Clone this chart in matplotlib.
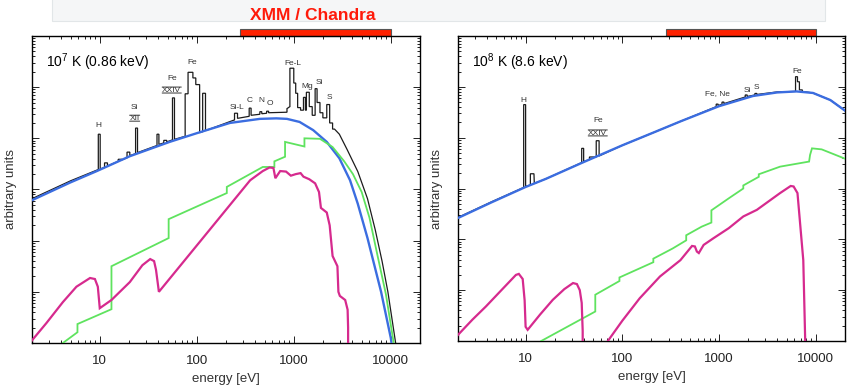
import numpy as np
import matplotlib.pyplot as plt
import matplotlib.ticker as mticker
from matplotlib import transforms
from matplotlib.patches import Rectangle

plt.rcParams['font.family'] = ['Liberation Sans', 'DejaVu Sans']
plt.rcParams['mathtext.default'] = 'regular'

# energies in eV, spectra given as log10(flux) in arbitrary units

# ---------------- 10^7 K ----------------
cont7_E = [2.0, 5.01, 9.33, 20.4, 52.5, 100, 219, 447, 661, 851, 1148, 1585, 2188,
           2951, 3802, 4571, 5754, 7943, 10000, 10715]
cont7_lg = [2.79, 3.14, 3.36, 3.65, 3.93, 4.10, 4.30, 4.38, 4.39, 4.38, 4.32, 4.16, 3.93,
            3.61, 3.18, 2.72, 2.05, 1.0, 0.1, -0.3]

tot7_E = [2.0, 5.01, 9.66, 9.66, 10.1, 10.1, 11.2, 11.2, 12.0, 12.0, 15.5, 15.5, 17.0, 17.0,
          19.1, 19.1, 20.4, 20.4, 23.4, 23.4, 24.5, 24.5, 38.9, 38.9, 40.7, 40.7,
          45.7, 45.7, 49.0, 49.0, 56.2, 56.2, 58.9, 58.9, 75.9, 75.9, 81.3, 81.3,
          91.2, 91.2, 97.7, 97.7, 107, 107, 115, 115, 123, 123, 245, 245, 263, 263,
          347, 347, 363, 363, 447, 447, 468, 468, 525, 525, 550, 550, 851, 851,
          912, 912, 1000, 1000, 1047, 1047, 1096, 1096, 1175, 1175, 1259, 1259,
          1318, 1318, 1349, 1349, 1445, 1445, 1549, 1549, 1660, 1660, 1738, 1738,
          1862, 1862, 1995, 1995, 2188, 2188, 2344, 2344, 2512, 2512, 2630,
          2951, 3548, 4571, 5754, 6918, 8128, 9333, 11220, 11749]
tot7_lg = [2.82, 3.17, 3.39, 4.08, 4.08, 3.40, 3.43, 3.52, 3.52, 3.46, 3.55, 3.59, 3.59, 3.58,
           3.62, 3.73, 3.73, 3.66, 3.70, 4.20, 4.20, 3.72, 3.86, 4.08, 4.08, 3.88,
           3.91, 3.96, 3.96, 3.93, 3.97, 4.79, 4.79, 3.98, 4.04, 4.87, 4.87, 5.29,
           5.29, 5.18, 5.18, 5.05, 5.05, 4.11, 4.13, 4.88, 4.88, 4.15, 4.36, 4.49, 4.49, 4.39,
           4.43, 4.59, 4.59, 4.45, 4.47, 4.52, 4.52, 4.48, 4.49, 4.53, 4.53, 4.50, 4.51, 4.58,
           4.62, 5.37, 5.37, 5.08, 5.08, 4.88, 4.88, 4.60, 4.60, 4.55, 4.55, 4.80,
           4.80, 4.55, 4.55, 4.90, 4.90, 4.62, 4.62, 4.45, 4.45, 4.97, 4.97, 4.70,
           4.70, 4.50, 4.50, 4.40, 4.40, 4.66, 4.66, 4.30, 4.30, 4.18, 4.18,
           4.08, 3.78, 3.35, 2.82, 2.21, 1.60, 1.0, 0.0, -0.3]

grn7_E = [4.17, 5.89, 5.89, 13.2, 13.2, 51.3, 51.3, 204, 204, 479, 631, 631, 813, 813,
          1288, 1288, 1862, 2512, 3311, 4074, 5012, 6026, 7413, 8913, 10715, 11220]
grn7_lg = [0.0, 0.21, 0.37, 0.66, 1.50, 2.05, 2.42, 2.93, 3.05, 3.44, 3.44, 3.55, 3.64, 3.93,
           3.84, 4.0, 3.99, 3.83, 3.55, 3.30, 2.95, 2.45, 1.65, 0.95, 0.0, -0.3]

mag7_E = [2.0, 2.82, 4.17, 5.75, 7.94, 8.91, 9.55, 10.0, 13.2, 20.4, 27.5, 33.1, 36.3, 38.0,
          40.7, 355, 479, 562, 617, 646, 724, 832, 933, 1047, 1175, 1259, 1445, 1660,
          1820, 1905, 2188, 2344, 2512, 2818, 2884, 2985, 3388, 3589, 3631, 3631]
mag7_lg = [0.05, 0.39, 0.80, 1.10, 1.27, 1.25, 1.10, 0.68, 0.84, 1.19, 1.52, 1.64, 1.60, 1.43,
           1.0, 3.18, 3.36, 3.43, 3.42, 3.22, 3.36, 3.35, 3.27, 3.30, 3.32, 3.25, 3.20, 3.12,
           2.95, 2.64, 2.55, 2.30, 1.70, 1.50, 1.0, 0.92, 0.84, 0.65, 0.3, -0.5]

# ---------------- 10^8 K ----------------
cont8_E = [2.0, 4.47, 10, 16.2, 39.8, 100, 209, 398, 1000, 2239, 3981, 6310, 9333, 14125, 20417]
cont8_lg = [2.42, 2.73, 3.03, 3.19, 3.52, 3.85, 4.10, 4.32, 4.62, 4.82, 4.89, 4.91, 4.88, 4.74, 4.52]

tot8_E = [2.0, 4.47, 9.55, 9.55, 10, 10, 11.2, 11.2, 12.2, 12.3, 16.2, 38.0, 38.0, 39.8, 39.8,
          45.7, 45.7, 53.7, 53.7, 57.5, 57.5, 100, 209, 398, 933, 933, 977, 977, 1072, 1072,
          1122, 1122, 1862, 1862, 1950, 1950, 2344, 2344, 2455, 2455, 3981, 6166, 6166,
          6457, 6457, 6761, 6761, 7244, 7244, 9333, 14125, 20417]
tot8_lg = [2.43, 2.74, 3.02, 4.65, 4.65, 3.04, 3.07, 3.29, 3.29, 3.10, 3.19, 3.51, 3.79, 3.79, 3.53,
           3.57, 3.62, 3.62, 3.94, 3.94, 3.64, 3.85, 4.10, 4.32, 4.61, 4.66, 4.66, 4.63, 4.66, 4.70,
           4.70, 4.67, 4.80, 4.84, 4.84, 4.81, 4.84, 4.87, 4.87, 4.85, 4.90, 4.91, 5.20,
           5.20, 5.10, 5.10, 4.94, 4.94, 4.91, 4.88, 4.74, 4.52]

grn8_E = [14.5, 52.5, 52.5, 93.3, 93.3, 209, 209, 331, 457, 457, 661, 832, 832, 1288, 1778,
          1778, 2570, 2570, 4266, 8511, 8710, 9120, 11482, 20417]
grn8_lg = [0.0, 0.58, 0.91, 1.18, 1.25, 1.55, 1.62, 1.82, 1.98, 2.08, 2.25, 2.33, 2.57, 2.82, 3.00,
           3.06, 3.23, 3.28, 3.43, 3.53, 3.66, 3.79, 3.77, 3.58]

mag8a_E = [2.0, 2.82, 3.89, 5.62, 7.94, 8.51, 9.33, 9.77, 10.0, 10.5, 14.1, 19.1, 25.1, 30.9,
           33.9, 36.3, 38.0, 38.9, 38.9]
mag8a_lg = [0.12, 0.42, 0.68, 1.0, 1.30, 1.32, 1.22, 0.8, 0.28, 0.22, 0.52, 0.81, 1.02, 1.14,
            1.12, 1.0, 0.75, 0.2, -0.3]
mag8b_E = [69.2, 70.8, 100, 151, 245, 398, 525, 562, 589, 617, 692, 871, 1259, 1778, 2455,
           4266, 5495, 5888, 6457, 6918, 7413, 7762, 7762]
mag8b_lg = [-0.1, 0.0, 0.4, 0.84, 1.27, 1.59, 1.87, 1.86, 1.76, 1.73, 1.89, 2.02, 2.22, 2.45, 2.58,
            2.91, 3.05, 3.04, 2.91, 2.25, 1.59, 0.0, -0.3]

# line identifications (text, energy, log10 flux, roman-numeral style)
lab7 = [("H", 9.77, 4.26, False), ("Si", 22.9, 4.61, False), ("XII", 22.9, 4.39, True),
        ("Fe", 55.2, 5.17, False), ("XXIV", 55.2, 4.94, True), ("Fe", 88.7, 5.49, False),
        ("Si-L", 263, 4.61, False), ("C", 352, 4.73, False), ("N", 468, 4.73, False),
        ("O", 566, 4.69, False), ("Fe-L", 977, 5.47, False), ("Mg", 1361, 5.02, False),
        ("Si", 1854, 5.10, False), ("S", 2350, 4.80, False)]
lab8 = [("H", 9.53, 4.74, False), ("Fe", 55.7, 4.33, False), ("XXIV", 55.7, 4.09, True),
        ("Fe, Ne", 953, 4.86, False), ("Si", 1950, 4.92, False), ("S", 2415, 4.98, False),
        ("Fe", 6427, 5.30, False)]

band = (280, 10000)   # XMM / Chandra energy band, eV

c_tot, c_cont, c_grn, c_mag = '#1c1c1c', '#3b6de0', '#5fe35f', '#d62a8e'

fig = plt.figure(figsize=(8.5, 3.89), dpi=100)
ax1 = fig.add_axes([0.0376, 0.1183, 0.4565, 0.7892])
ax2 = fig.add_axes([0.5388, 0.1234, 0.4553, 0.7840])


def curve(ax, E, lg, **kw):
    ax.plot(E, 10 ** np.array(lg), solid_joinstyle='miter', **kw)


def panel(ax, tot, cont, grn, mags, labels, title):
    curve(ax, *tot, color=c_tot, lw=0.9, zorder=2)
    curve(ax, *cont, color=c_cont, lw=1.7, zorder=3)
    curve(ax, *grn, color=c_grn, lw=1.3, zorder=4)
    for m in mags:
        curve(ax, *m, color=c_mag, lw=1.6, zorder=5)
    ax.set_xscale('log')
    ax.set_yscale('log')
    ax.set_xlim(2, 20000)
    ax.set_ylim(1, 1e6)
    ax.xaxis.set_major_formatter(mticker.FuncFormatter(lambda v, p: f'{v:g}'))
    ax.xaxis.set_minor_formatter(mticker.NullFormatter())
    ax.yaxis.set_major_formatter(mticker.NullFormatter())
    ax.yaxis.set_minor_locator(mticker.LogLocator(subs=np.arange(2, 10), numticks=20))
    ax.yaxis.set_minor_formatter(mticker.NullFormatter())
    ax.tick_params(which='both', direction='in', top=True, right=True, width=0.7,
                   labelsize=9.5, colors='#222222')
    ax.tick_params(which='major', length=5, pad=9)
    ax.tick_params(which='minor', length=2.5)
    for s in ax.spines.values():
        s.set_linewidth(1.0)
    ax.set_xlabel('energy [eV]', fontsize=9.5, labelpad=4, color='#333333')
    ax.set_ylabel('arbitrary units', fontsize=9.5, labelpad=2, color='#333333')
    ax.text(0.036, 0.915, title, transform=ax.transAxes, va='center', fontsize=10)
    for s, E, lg, rom in labels:
        t = ax.text(E, 10 ** lg, s, ha='center', va='center', fontsize=6,
                    color='#333333', zorder=6)
        if rom:
            for yy in (0.1, 0.95):
                ax.annotate('', xy=(0, yy), xycoords=t, xytext=(1, yy), textcoords=t,
                            arrowprops=dict(arrowstyle='-', lw=0.7, color='#333333',
                                            shrinkA=0, shrinkB=0))
    tr = transforms.blended_transform_factory(ax.transData, ax.transAxes)
    ax.add_patch(Rectangle((band[0], 1.0), band[1] - band[0], 0.023, transform=tr,
                           facecolor='#ff2200', edgecolor='#555555', lw=0.8, clip_on=False))


panel(ax1, (tot7_E, tot7_lg), (cont7_E, cont7_lg), (grn7_E, grn7_lg),
      [(mag7_E, mag7_lg)], lab7, r'10$^7$ K (0.86 keV)')
panel(ax2, (tot8_E, tot8_lg), (cont8_E, cont8_lg), (grn8_E, grn8_lg),
      [(mag8a_E, mag8a_lg), (mag8b_E, mag8b_lg)], lab8, r'10$^8$ K (8.6 keV)')

fig.patches.append(Rectangle((0.061, 0.946), 0.91, 0.07, transform=fig.transFigure,
                             facecolor='#f5f6f7', edgecolor='#e2e6e8', lw=0.8))
fig.text(0.368, 0.961, 'XMM / Chandra', ha='center', va='center', color='#ff1a0a',
         fontsize=12.5, fontweight='bold')

fig.savefig('out.png', dpi=100)
